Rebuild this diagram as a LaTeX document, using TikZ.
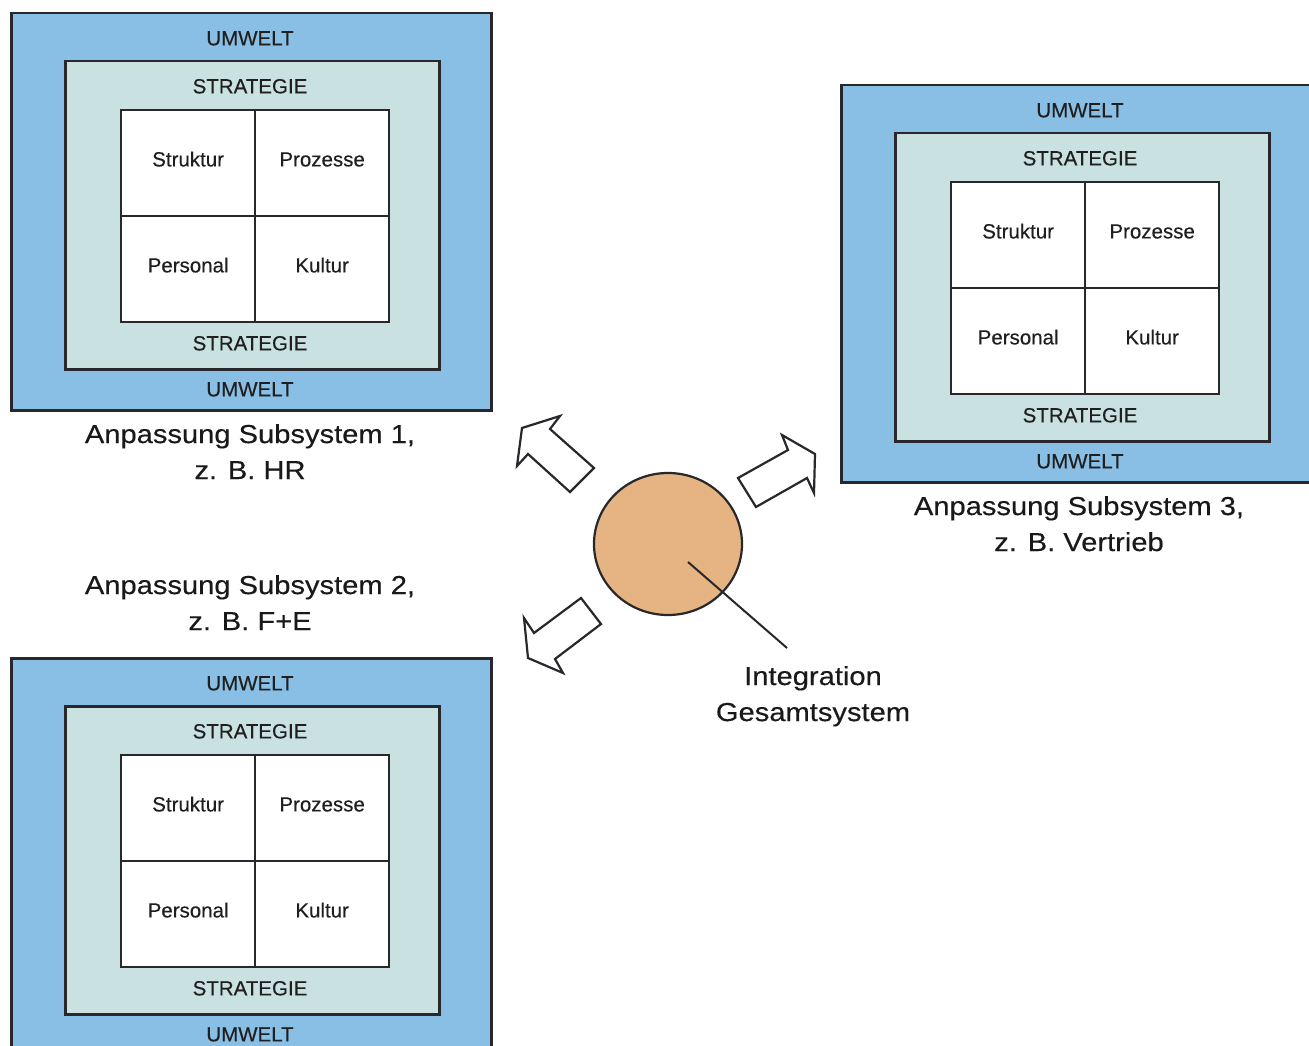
\documentclass[tikz,border=0pt]{standalone}
\usepackage{fontspec}
\setmainfont[FakeBold=0.35]{Liberation Sans}
\newfontfamily\bigfont[FakeStretch=1.12,FakeBold=0.3]{Liberation Sans}
\usetikzlibrary{shapes.geometric}
\definecolor{umwelt}{RGB}{137,191,229}
\definecolor{strat}{RGB}{202,225,225}
\definecolor{kern}{RGB}{229,180,130}
\definecolor{edge}{RGB}{40,40,44}
\tikzset{
  outerbox/.style={rectangle, draw=edge, line width=2.5pt, fill=umwelt, minimum width=480pt, minimum height=397pt, inner sep=0pt, anchor=north west},
  innerbox/.style={rectangle, draw=edge, line width=2.5pt, fill=strat, minimum width=374pt, minimum height=308pt, inner sep=0pt, anchor=north west},
  cell/.style={rectangle, draw=edge, line width=2.3pt, fill=white, minimum width=134pt, minimum height=106pt, inner sep=0pt, anchor=north west, font=\fontsize{20.5}{24}\selectfont, text height=15pt, text depth=8.5pt, text=black!88},
  lbl/.style={inner sep=0pt, font=\fontsize{20.5}{24}\selectfont, text height=14.7pt, text depth=0pt, text=black!88},
  biglbl/.style={inner sep=0pt, anchor=north, align=center, font={\fontsize{26}{36}\selectfont\bigfont}, text=black!90},
  blockarrow/.style={draw=edge, line width=2.2pt, fill=white, line join=miter},
  connector/.style={draw=edge, line width=2pt}
}
\begin{document}
\begin{tikzpicture}[x=1pt,y=-1pt]
\useasboundingbox (0,0) rectangle (1309,1046);
\fill[white] (0,0) rectangle (1309,1046);
\clip (0,0) rectangle (1309,1046);
\foreach \nm/\ox/\oy in {a/10/12, b/10/657, c/840/84}{
  \begin{scope}[shift={(\ox,\oy)}]
    \node[outerbox] (\nm-u) at (0,0) {};
    \node[innerbox] (\nm-s) at (54,48) {};
    \node[cell] (\nm-st) at (110,97) {Struktur};
    \node[cell] (\nm-pr) at (244,97) {Prozesse};
    \node[cell] (\nm-pe) at (110,203) {Personal};
    \node[cell] (\nm-ku) at (244,203) {Kultur};
    \node[lbl] (\nm-ut) at (240,26) {UMWELT};
    \node[lbl] (\nm-stt) at (240,74) {STRATEGIE};
    \node[lbl] (\nm-stb) at (240,331) {STRATEGIE};
    \node[lbl] (\nm-ub) at (240,377) {UMWELT};
  \end{scope}
}
% labels
\node[biglbl] (l1) at (250,424) {Anpassung Subsystem 1,\\z. B. HR};
\node[biglbl] (l2) at (250,575) {Anpassung Subsystem 2,\\z. B. F+E};
\node[biglbl] (l3) at (1079,496) {Anpassung Subsystem 3,\\z. B. Vertrieb};
% centre
\node[ellipse, draw=edge, line width=2.2pt, fill=kern, minimum width=148pt, minimum height=142pt] (kern) at (668,544) {};
\node[biglbl] (integ) at (813,666) {Integration\\Gesamtsystem};
\coordinate (ls) at (688,562);
\coordinate (le) at (787,648);
\draw[connector] (ls) -- (le);
% block arrows
\draw[blockarrow] (560,416) -- (522,428) -- (517,466) -- (528,454) -- (570,492) -- (594,468) -- (550,429) -- cycle;
\draw[blockarrow] (738,478) -- (756,507) -- (807,478) -- (814,493) -- (815,454) -- (782,435) -- (788,450) -- cycle;
\draw[blockarrow] (581,598) -- (601,624) -- (555,659) -- (563,673) -- (528,658) -- (524,618) -- (534,633) -- cycle;
\end{tikzpicture}
\end{document}
